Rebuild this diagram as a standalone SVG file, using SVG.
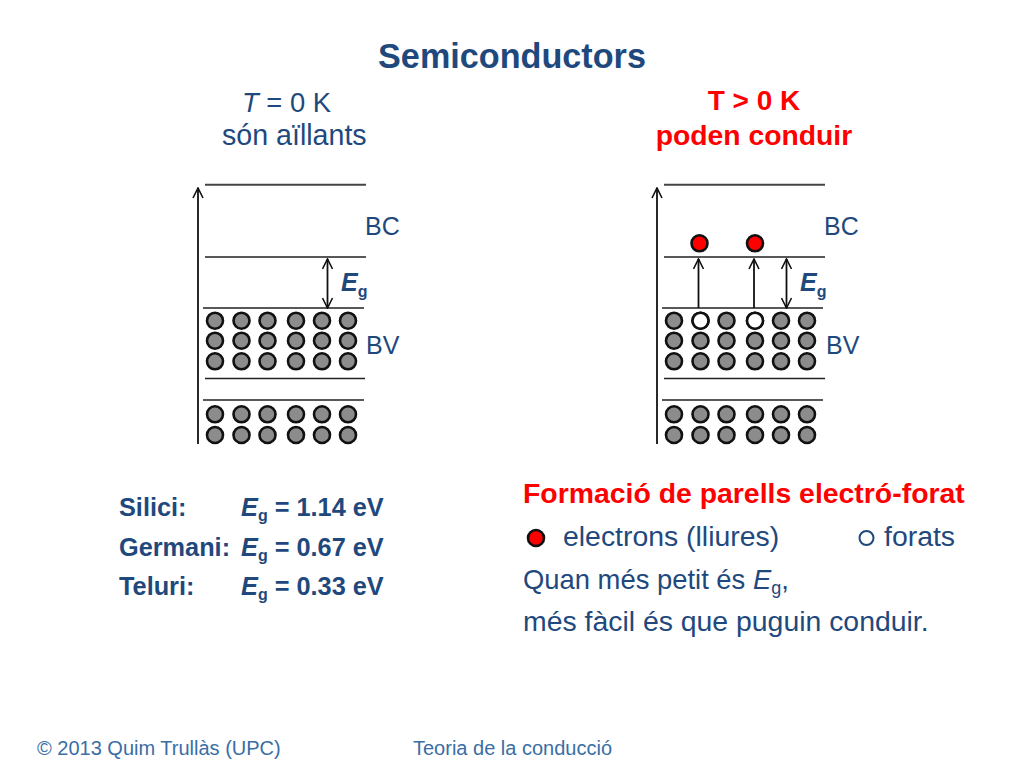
<svg xmlns="http://www.w3.org/2000/svg" width="1024" height="768" viewBox="0 0 1024 768">
<style>
text{font-family:"Liberation Sans",Arial,sans-serif;fill:#1f497d}
.b{font-weight:bold}.i{font-style:italic}
.red{fill:#f00}
.h2{font-size:28px}.body{font-size:28.4px}.si{font-size:25.3px}.lab{font-size:25px}
.foot{font-size:20px;fill:#3a6ea5}
.ln{stroke:#222;stroke-width:1.4;fill:none}
.top{stroke:#444;stroke-width:2;fill:none}
.ar{stroke:#111;stroke-width:1.8;fill:none;marker-end:url(#a)}
.ar2{stroke:#111;stroke-width:1.8;fill:none;marker-start:url(#a);marker-end:url(#a)}
.p{fill:#8c8c8c;stroke:#111;stroke-width:2.6}
.h{fill:#fff;stroke:#111;stroke-width:2.6}
.e{fill:#f00;stroke:#111;stroke-width:2.6}
</style>
<defs>
<marker id="a" viewBox="0 0 12 12" refX="11" refY="6" markerWidth="12" markerHeight="12" markerUnits="userSpaceOnUse" orient="auto-start-reverse"><path d="M1 1 L11 6 L1 11" fill="none" stroke="#111" stroke-width="1.6"/></marker>
<g id="row" >
<circle class="p" cx="0" r="8"/><circle class="p" cx="26.5" r="8"/><circle class="p" cx="52.5" r="8"/><circle class="p" cx="81" r="8"/><circle class="p" cx="107" r="8"/><circle class="p" cx="133" r="8"/>
</g>
</defs>
<g id="title"><text x="512" y="68" text-anchor="middle" class="b" font-size="34.2">Semiconductors</text></g>
<g id="left-heading">
<text x="242" y="112" font-size="27.4"><tspan class="i">T</tspan> = 0 K</text>
<text x="222" y="145" font-size="28.6">són aïllants</text>
</g>
<g id="right-heading">
<text x="754" y="110" text-anchor="middle" class="h2 b red">T &gt; 0 K</text>
<text x="754" y="145" text-anchor="middle" class="b red" font-size="28.3">poden conduir</text>
</g>
<g id="connectors">
<path class="top" d="M205 184.7H366M664 184.7H825"/>
<path class="ln" d="M205 257H366M203 308H364M205 378.5H365M203 400H364M664 257H825M662 308H823M664 378.5H825M662 400H823"/>
<path class="ar" d="M198 444V188"/>
<path class="ar" d="M657 444V188"/>
<path class="ar2" d="M327.5 308V259"/>
<path class="ar2" d="M786.5 308V259"/>
<path class="ar" d="M698.5 308V259"/>
<path class="ar" d="M754 308V259"/>
</g>
<g id="band-left">
<use href="#row" x="215" y="320.7"/><use href="#row" x="215" y="340.7"/><use href="#row" x="215" y="361.3"/><use href="#row" x="215" y="414.3"/><use href="#row" x="215" y="435"/>
<text x="365" y="235" class="lab">BC</text>
<text x="366" y="354" class="lab">BV</text>
<text x="341" y="291" class="b i" font-size="25">E<tspan class="b" font-style="normal" font-size="16" dy="6">g</tspan></text>
</g>
<g id="band-right">
<use href="#row" x="674" y="320.7"/><use href="#row" x="674" y="340.7"/><use href="#row" x="674" y="361.3"/><use href="#row" x="674" y="414.3"/><use href="#row" x="674" y="435"/>
<circle class="h" cx="700.5" cy="320.7" r="8"/><circle class="h" cx="755" cy="320.7" r="8"/>
<circle class="e" cx="699.5" cy="243.3" r="8"/><circle class="e" cx="755" cy="243.3" r="8"/>
<text x="824" y="235" class="lab">BC</text>
<text x="826" y="354" class="lab">BV</text>
<text x="800" y="291" class="b i" font-size="25">E<tspan class="b" font-style="normal" font-size="16" dy="6">g</tspan></text>
</g>
<g id="materials" class="si">
<text x="119" y="516" class="b si">Silici:</text>
<text x="119" y="556" class="b si">Germani:</text>
<text x="119" y="595" class="b si">Teluri:</text>
<text x="241" y="516" class="b si"><tspan class="i">E</tspan><tspan font-size="16" dy="5">g</tspan><tspan dy="-5"> = 1.14 eV</tspan></text>
<text x="241" y="556" class="b si"><tspan class="i">E</tspan><tspan font-size="16" dy="5">g</tspan><tspan dy="-5"> = 0.67 eV</tspan></text>
<text x="241" y="595" class="b si"><tspan class="i">E</tspan><tspan font-size="16" dy="5">g</tspan><tspan dy="-5"> = 0.33 eV</tspan></text>
</g>
<g id="explanation">
<text x="523" y="503" class="b red" font-size="28.4">Formació de parells electró-forat</text>
<circle class="e" cx="536" cy="538" r="8"/>
<text x="563" y="546" class="body">electrons (lliures)</text>
<circle cx="866.5" cy="538" r="7" fill="none" stroke="#1f497d" stroke-width="2"/>
<text x="884" y="546" class="body">forats</text>
<text x="523" y="589" font-size="27.4">Quan més petit és <tspan class="i">E</tspan><tspan font-size="18" dy="5">g</tspan><tspan dy="-5">,</tspan></text>
<text x="523" y="631" class="body">més fàcil és que puguin conduir.</text>
</g>
<g id="footer">
<text x="37" y="755" class="foot">© 2013 Quim Trullàs (UPC)</text>
<text x="413" y="755" class="foot">Teoria de la conducció</text>
</g>
</svg>
